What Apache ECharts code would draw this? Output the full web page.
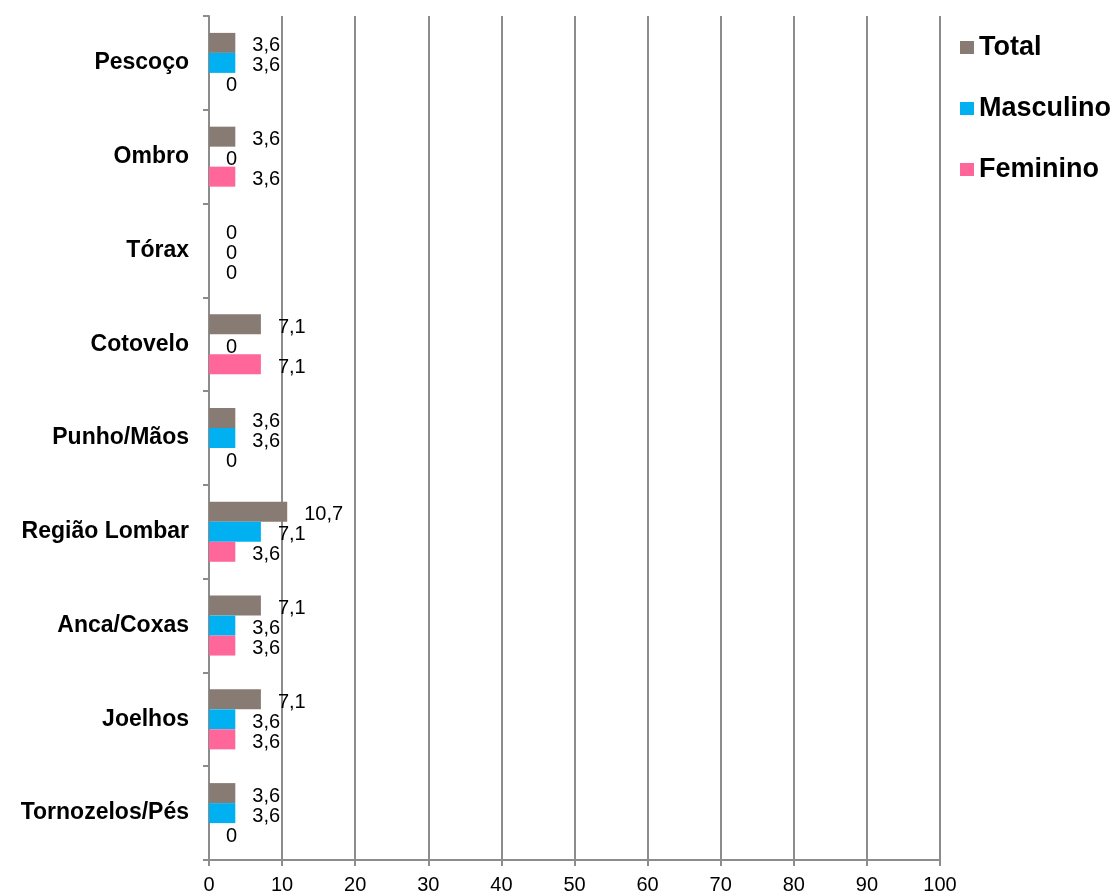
<!DOCTYPE html>
<html>
<head>
<meta charset="utf-8">
<script src="https://cdn.jsdelivr.net/npm/echarts@6/dist/echarts.min.js"></script>
<style>
  html, body { margin: 0; padding: 0; background: #ffffff; }
  #chart { width: 1115px; height: 896px; }
</style>
</head>
<body>
<div id="chart"></div>
<script>
// Body regions, listed top to bottom
const regions = ['Pescoço', 'Ombro', 'Tórax', 'Cotovelo', 'Punho/Mãos', 'Região Lombar', 'Anca/Coxas', 'Joelhos', 'Tornozelos/Pés'];
// Percentages per region
const total     = [3.6, 3.6, 0, 7.1, 3.6, 10.7, 7.1, 7.1, 3.6];
const masculino = [3.6, 0,   0, 0,   3.6, 7.1,  3.6, 3.6, 3.6];
const feminino  = [0,   3.6, 0, 7.1, 0,   3.6,  3.6, 3.6, 0];

const FONT = 'Liberation Sans, Arial, sans-serif';
const GRID_GRAY = '#8c8c8c';

function barSeries(name, data, color) {
  return {
    name: name,
    type: 'bar',
    data: data,
    barWidth: 20,
    barGap: '0%',
    itemStyle: { color: color },
    label: {
      show: true,
      position: 'right',
      distance: 17,
      color: '#000',
      fontFamily: FONT,
      fontSize: 20,
      offset: [0, 3],
      formatter: p => String(p.value).replace('.', ',')
    }
  };
}

const chart = echarts.init(document.getElementById('chart'));
chart.setOption({
  animation: false,
  backgroundColor: '#ffffff',
  grid: { left: 209, right: 175, top: 16, bottom: 36, containLabel: false },
  legend: {
    orient: 'vertical',
    left: 955,
    top: 29,
    itemWidth: 14,
    itemHeight: 13,
    itemGap: 34,
    icon: 'rect',
    textStyle: { fontFamily: FONT, fontSize: 27, lineHeight: 27, fontWeight: 'bold', color: '#000', padding: [0, 0, 0, 0] },
    data: ['Total', 'Masculino', 'Feminino']
  },
  xAxis: {
    type: 'value',
    min: 0,
    max: 100,
    interval: 10,
    axisLine: { show: true, lineStyle: { color: GRID_GRAY, width: 2 } },
    axisTick: { show: true, length: 6, lineStyle: { color: GRID_GRAY, width: 2 } },
    axisLabel: { fontFamily: FONT, fontSize: 20, color: '#000', margin: 15 },
    splitLine: { show: true, lineStyle: { color: GRID_GRAY, width: 2 } }
  },
  yAxis: {
    type: 'category',
    inverse: true,
    data: regions,
    axisLine: { show: true, lineStyle: { color: GRID_GRAY, width: 2 } },
    axisTick: { show: true, length: 6, lineStyle: { color: GRID_GRAY, width: 2 } },
    axisLabel: { fontFamily: FONT, fontSize: 23, fontWeight: 'bold', color: '#000', margin: 20 }
  },
  series: [
    barSeries('Total', total, '#877b73'),
    barSeries('Masculino', masculino, '#00b0f0'),
    barSeries('Feminino', feminino, '#ff6699')
  ]
});
</script>
</body>
</html>
